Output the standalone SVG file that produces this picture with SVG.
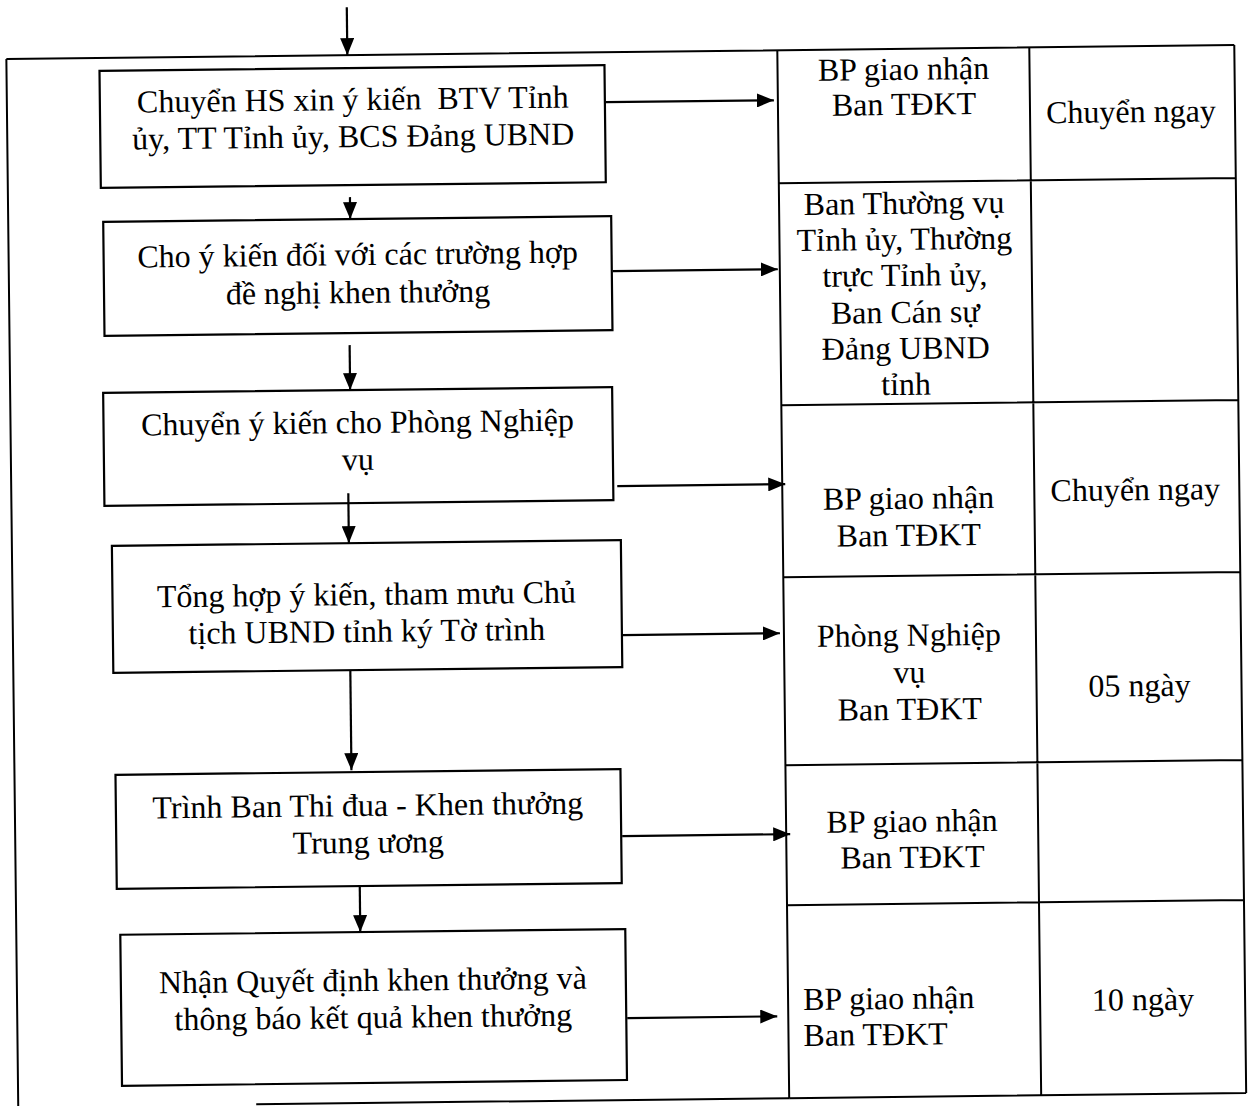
<svg xmlns="http://www.w3.org/2000/svg" width="1254" height="1106" viewBox="0 0 1254 1106">
<defs>
<marker id="ah" markerWidth="17" markerHeight="14" refX="17" refY="7" orient="auto" markerUnits="userSpaceOnUse"><path d="M0,0 L17,7 L0,14 Z" fill="#000"/></marker>
<style>
.box{fill:#fff;stroke:#000;stroke-width:2.2}
.ln{fill:none;stroke:#000;stroke-width:2}
.ar{fill:none;stroke:#000;stroke-width:2.2;marker-end:url(#ah)}
text{font-family:"Liberation Serif","Times New Roman",serif;font-size:32px;fill:#000}
.c{text-anchor:middle}
</style>
</defs>
<rect width="1254" height="1106" fill="#fff"/>
<g transform="rotate(-0.65 627 553)">
<g id="frame">
<path class="ln" d="M12,52 L1240,52 M12,52 L12,1100 M250,1100 L783,1100"/>
</g>
<g id="table">
<path class="ln" d="M783,52 L783,1100 M1035,52 L1035,1100 M1240,52 L1240,1100 M783,1100 L1240,1100 M783,185 L1240,185 M783,407 L1240,407 M783,579 L1240,579 M783,767 L1240,767 M783,907 L1240,907"/>
</g>
<g id="n1"><rect class="box" x="105" y="65" width="505" height="117"/>
<text class="c" x="358" y="107" xml:space="preserve">Chuyển HS xin ý kiến&#160; BTV Tỉnh</text>
<text class="c" x="358" y="144">ủy, TT Tỉnh ủy, BCS Đảng UBND</text></g>
<g id="n2"><rect class="box" x="107" y="216" width="508" height="114"/>
<text class="c" x="361" y="262">Cho ý kiến đối với các trường hợp</text>
<text class="c" x="361" y="300">đề nghị khen thưởng</text></g>
<g id="n3"><rect class="box" x="105" y="387" width="509" height="113"/>
<text class="c" x="359" y="430">Chuyển ý kiến cho Phòng Nghiệp</text>
<text class="c" x="359" y="467">vụ</text></g>
<g id="n4"><rect class="box" x="112" y="540" width="509" height="127"/>
<text class="c" x="366" y="602">Tổng hợp ý kiến, tham mưu Chủ</text>
<text class="c" x="366" y="639">tịch UBND tỉnh ký Tờ trình</text></g>
<g id="n5"><rect class="box" x="113" y="769" width="505" height="114"/>
<text class="c" x="365" y="813">Trình Ban Thi đua - Khen thưởng</text>
<text class="c" x="365" y="850">Trung ương</text></g>
<g id="n6"><rect class="box" x="116" y="929" width="505" height="151"/>
<text class="c" x="368" y="988">Nhận Quyết định khen thưởng và</text>
<text class="c" x="368" y="1025">thông báo kết quả khen thưởng</text></g>
<g id="t1"><text class="c" x="909" y="83">BP giao nhận</text><text class="c" x="909" y="118">Ban TĐKT</text></g>
<g id="t1b"><text class="c" x="1136" y="128">Chuyển ngay</text></g>
<g id="t2"><text class="c" x="908" y="217">Ban Thường vụ</text><text class="c" x="908" y="253">Tỉnh ủy, Thường</text><text class="c" x="908" y="289">trực Tỉnh ủy,</text><text class="c" x="908" y="326">Ban Cán sự</text><text class="c" x="908" y="362">Đảng UBND</text><text class="c" x="908" y="398">tỉnh</text></g>
<g id="t3"><text class="c" x="909" y="512">BP giao nhận</text><text class="c" x="909" y="549">Ban TĐKT</text></g>
<g id="t3b"><text class="c" x="1136" y="506">Chuyển ngay</text></g>
<g id="t4"><text class="c" x="908" y="649">Phòng Nghiệp</text><text class="c" x="908" y="686">vụ</text><text class="c" x="908" y="723">Ban TĐKT</text></g>
<g id="t4b"><text class="c" x="1138" y="702">05 ngày</text></g>
<g id="t5"><text class="c" x="909" y="835">BP giao nhận</text><text class="c" x="909" y="871">Ban TĐKT</text></g>
<g id="t6"><text x="798" y="1012">BP giao nhận</text><text x="798" y="1048">Ban TĐKT</text></g>
<g id="t6b"><text class="c" x="1138" y="1016">10 ngày</text></g>
<g id="connectors">
<line class="ar" x1="353" y1="4" x2="353" y2="52"/>
<line class="ar" x1="354" y1="194" x2="354" y2="216"/>
<line class="ar" x1="352" y1="342" x2="352" y2="387"/>
<line class="ar" x1="349" y1="490" x2="349" y2="540"/>
<line class="ar" x1="349" y1="667" x2="349" y2="767"/>
<line class="ar" x1="356" y1="884" x2="356" y2="929"/>
<line class="ar" x1="611" y1="102" x2="779" y2="102"/>
<line class="ar" x1="616" y1="271" x2="781" y2="271"/>
<line class="ar" x1="618" y1="486" x2="786" y2="486"/>
<line class="ar" x1="621" y1="635" x2="779" y2="635"/>
<line class="ar" x1="619" y1="836" x2="787" y2="836"/>
<line class="ar" x1="622" y1="1018" x2="772" y2="1018"/>
</g>
</g>
</svg>
